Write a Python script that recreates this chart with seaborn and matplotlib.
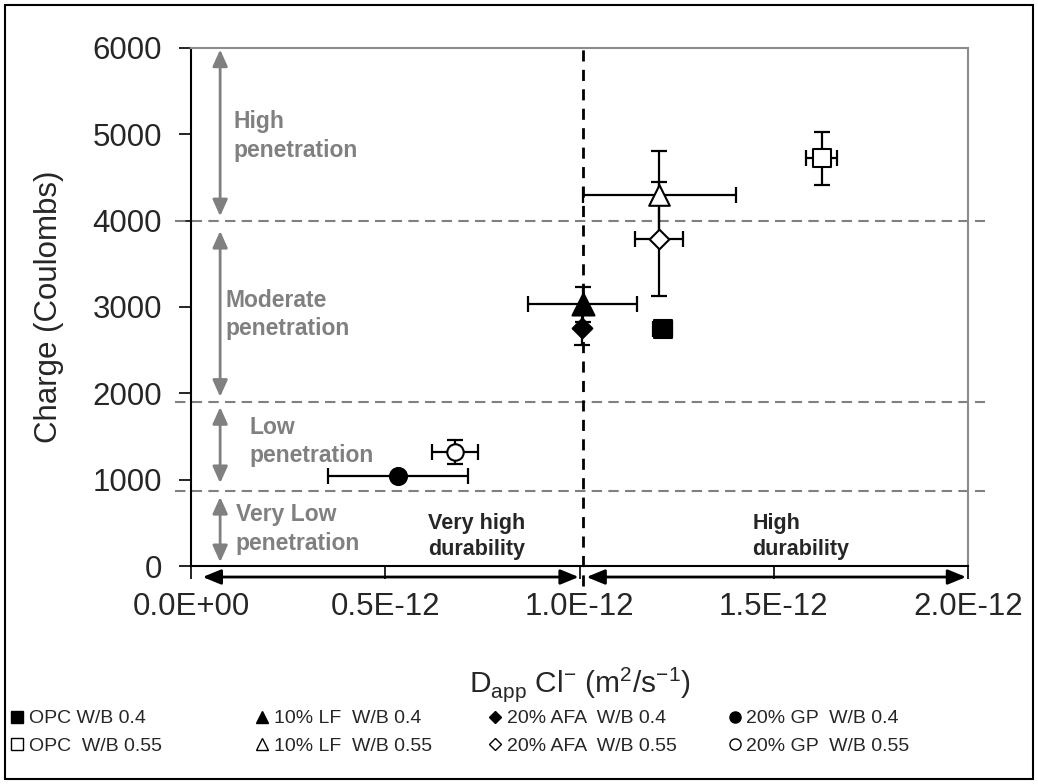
import matplotlib
matplotlib.use("Agg")
import matplotlib.pyplot as plt
import seaborn as sns
import pandas as pd
from matplotlib.lines import Line2D
from matplotlib.patches import Rectangle

# data (D_app in units of 1e-12 m2/s, charge in Coulombs)
mixes = ["OPC W/B 0.4", "10% LF  W/B 0.4", "20% AFA  W/B 0.4", "20% GP  W/B 0.4",
         "OPC  W/B 0.55", "10% LF  W/B 0.55", "20% AFA  W/B 0.55", "20% GP  W/B 0.55"]
d_app = [1.214, 1.008, 1.006, 0.532, 1.624, 1.205, 1.205, 0.680]
d_err = [0.025, 0.140, 0.0, 0.180, 0.040, 0.197, 0.062, 0.060]
charge = [2740, 3030, 2760, 1045, 4720, 4300, 3785, 1317]
charge_err = [0, 200, 195, 0, 310, 500, 660, 137]
markers = ["s", "^", "D", "o", "s", "^", "D", "o"]
filled = [True, True, True, True, False, False, False, False]
msize = [150, 250, 100, 150, 160, 220, 100, 140]

# penetration classes
band_lines = [4000, 1900, 870]
band_arrows = [(5980, 4050), (3880, 1960), (1840, 960), (800, 45)]
band_labels = ["High\npenetration", "Moderate\npenetration", "Low\npenetration", "Very Low\npenetration"]
band_label_pos = [(0.11, 4980), (0.09, 2910), (0.15, 1440), (0.115, 430)]
durability_split = 1.008
durability_labels = ["Very high\ndurability", "High\ndurability"]

df = pd.DataFrame({"mix": mixes, "d_app": d_app, "d_err": d_err,
                   "charge": charge, "charge_err": charge_err})

sns.set_style("white")
plt.rcParams["font.family"] = ["Liberation Sans", "DejaVu Sans"]
plt.rcParams["mathtext.fontset"] = "custom"
plt.rcParams["mathtext.rm"] = "Liberation Sans"

fig = plt.figure(figsize=(10.38, 7.84), dpi=100)
ax = fig.add_axes([0.184, 0.278, 0.7486, 0.661])

# error bars
for i, row in df.iterrows():
    ax.errorbar(row["d_app"], row["charge"],
                xerr=row["d_err"] if row["d_err"] > 0 else None,
                yerr=row["charge_err"] if row["charge_err"] > 0 else None,
                fmt="none", ecolor="black", elinewidth=1.6, capsize=6, capthick=1.6, zorder=3)

# markers
for i in range(len(mixes)):
    sns.scatterplot(x=[d_app[i]], y=[charge[i]], marker=markers[i], s=msize[i],
                    color="black" if filled[i] else "white", edgecolor="black",
                    linewidth=1.5, ax=ax, zorder=4, legend=False)

ax.set_xlim(0, 2.0)
ax.set_ylim(0, 6000)
ax.set_xticks([0, 0.5, 1.0, 1.5, 2.0])
ax.set_xticklabels(["0.0E+00", "0.5E-12", "1.0E-12", "1.5E-12", "2.0E-12"])
ax.set_yticks(range(0, 6001, 1000))
ax.tick_params(axis="both", labelsize=22.5, direction="out", length=9, width=1.2, color="black")
ax.tick_params(axis="y", pad=12, left=True)
ax.tick_params(axis="x", pad=10, bottom=True)

for side in ["left", "bottom"]:
    ax.spines[side].set_color("black")
    ax.spines[side].set_linewidth(1.5)
for side in ["top", "right"]:
    ax.spines[side].set_color("#8c8c8c")
    ax.spines[side].set_linewidth(1.5)

ax.set_ylabel("Charge (Coulombs)", fontsize=22.5, labelpad=20)
ax.set_xlabel(r"D$_{\mathregular{app}}$ Cl$^{\mathregular{-}}$ (m$^{\mathregular{2}}$/s$^{\mathregular{-1}}$)",
              fontsize=21.5, labelpad=31)

# band boundaries
for yv in band_lines:
    ax.plot([-0.041, 2.044], [yv, yv], color="#808080", lw=1.5, ls=(0, (5, 3)),
            clip_on=False, zorder=1)
ax.plot([durability_split, durability_split], [-230, 6000], color="black", lw=2,
        ls=(0, (4, 3)), clip_on=False, zorder=2)

# penetration arrows and labels
for (y0, y1), lab, (tx, ty) in zip(band_arrows, band_labels, band_label_pos):
    ax.annotate("", xy=(0.075, y1), xytext=(0.075, y0),
                arrowprops=dict(arrowstyle="<|-|>,head_length=1.0,head_width=0.45",
                                color="#808080", lw=2, shrinkA=0, shrinkB=0))
    ax.text(tx, ty, lab, color="#808080", fontsize=16.5, fontweight="bold",
            ha="left", va="center", linespacing=1.3)

# durability arrows below axis
ax.annotate("", xy=(0.03, -127), xytext=(durability_split - 0.01, -127),
            arrowprops=dict(arrowstyle="<|-|>,head_length=1.1,head_width=0.45",
                            color="black", lw=2, shrinkA=0, shrinkB=0),
            annotation_clip=False)
ax.annotate("", xy=(durability_split + 0.01, -127), xytext=(1.995, -127),
            arrowprops=dict(arrowstyle="<|-|>,head_length=1.1,head_width=0.45",
                            color="black", lw=2, shrinkA=0, shrinkB=0),
            annotation_clip=False)
ax.text(0.735, 340, durability_labels[0], fontsize=15.5, fontweight="bold",
        ha="center", va="center", linespacing=1.35)
ax.text(1.445, 340, durability_labels[1], fontsize=15.5, fontweight="bold",
        ha="left", va="center", linespacing=1.35)

# legend: one small legend per column, two rows each
handles = []
for i in range(len(mixes)):
    handles.append(Line2D([], [], ls="none", marker=markers[i],
                          markersize=8 if markers[i] != "D" else 6.5,
                          markerfacecolor="black" if filled[i] else "white",
                          markeredgecolor="black", markeredgewidth=1.0, label=mixes[i]))
col_x = [-0.002, 0.234, 0.458, 0.689]
for j in range(4):
    fig.legend([handles[j], handles[j + 4]], [mixes[j], mixes[j + 4]],
               loc="upper left", bbox_to_anchor=(col_x[j], 0.112), frameon=False,
               fontsize=14, handlelength=0.6, handletextpad=0.3, labelspacing=0.5,
               borderpad=0.2)

# outer frame
fig.patches.append(Rectangle((0.005, 0.006), 0.99, 0.988, transform=fig.transFigure,
                             fill=False, edgecolor="black", lw=1.5))

fig.savefig("out.png", dpi=100)
